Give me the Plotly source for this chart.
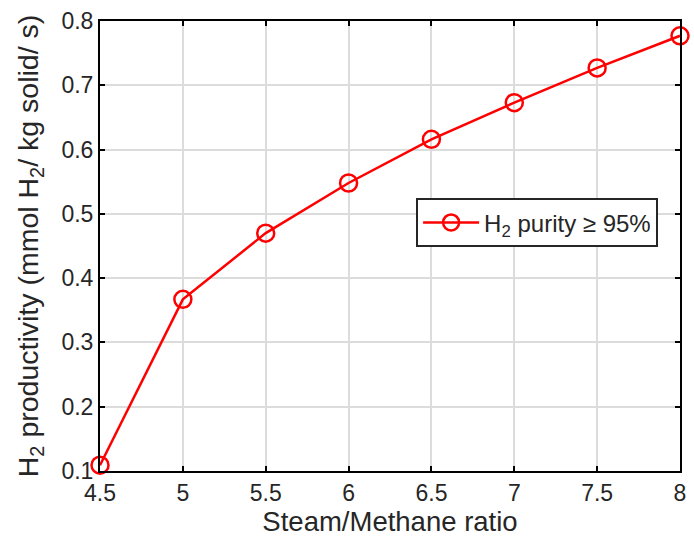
import plotly.graph_objects as go

ratio = [4.5, 5, 5.5, 6, 6.5, 7, 7.5, 8]
productivity = [0.109, 0.367, 0.470, 0.548, 0.616, 0.673, 0.727, 0.777]
x_ticks = [4.5, 5, 5.5, 6, 6.5, 7, 7.5, 8]
x_labels = ["4.5", "5", "5.5", "6", "6.5", "7", "7.5", "8"]
y_ticks = [0.1, 0.2, 0.3, 0.4, 0.5, 0.6, 0.7, 0.8]
y_labels = ["0.1", "0.2", "0.3", "0.4", "0.5", "0.6", "0.7", "0.8"]

FONT = "Liberation Sans, Arial"

fig = go.Figure()
fig.add_trace(go.Scatter(
    x=ratio, y=productivity, mode="lines+markers",
    name="H<sub>2</sub> purity ≥ 95%",
    line=dict(color="#ff0000", width=2.5),
    marker=dict(symbol="circle-open", size=17, color="#ff0000", line=dict(width=2.5, color="#ff0000")),
    cliponaxis=False,
))

axis_common = dict(
    showline=True, linecolor="black", linewidth=2, mirror="ticks",
    ticks="inside", ticklen=5, tickwidth=2, tickcolor="black",
    showgrid=True, gridcolor="#dcdcdc", gridwidth=2, zeroline=False,
    tickfont=dict(family=FONT, size=23, color="#262626"),
)

fig.update_xaxes(range=[4.5, 8], tickvals=x_ticks, ticktext=x_labels,
                 title=dict(text="Steam/Methane ratio", font=dict(family=FONT, size=27.5, color="#262626"), standoff=2),
                 **axis_common)
fig.update_yaxes(range=[0.1, 0.8], tickvals=y_ticks, ticktext=y_labels,
                 title=dict(text="H<sub>2</sub> productivity (mmol H<sub>2</sub>/ kg solid/ s)", font=dict(family=FONT, size=28.5, color="#262626"), standoff=14),
                 **axis_common)

fig.update_layout(
    width=694, height=539,
    margin=dict(l=100, r=8, t=17, b=68),
    plot_bgcolor="white", paper_bgcolor="white",
    showlegend=True,
    legend=dict(x=0.545, y=0.606, xanchor="left", yanchor="top",
                bgcolor="white", bordercolor="#262626", borderwidth=2,
                itemwidth=56, tracegroupgap=0,
                font=dict(family=FONT, size=24, color="#262626")),
)

fig.write_html("out.html")
